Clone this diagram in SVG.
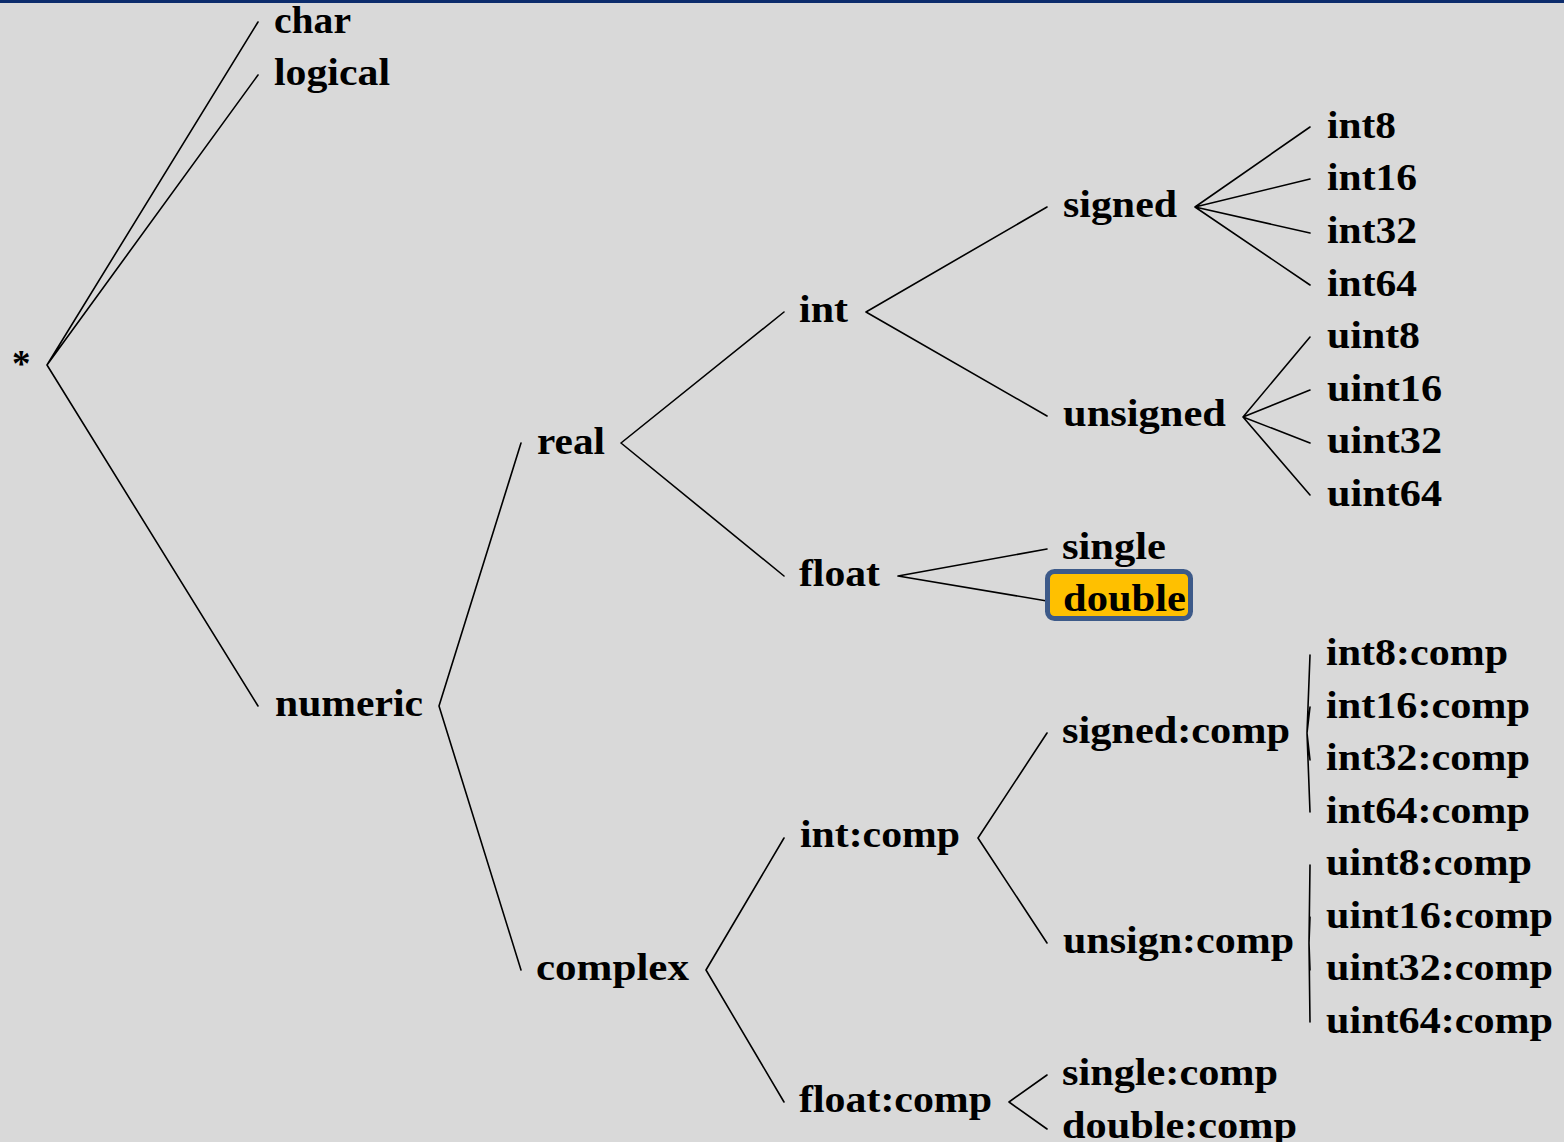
<svg xmlns="http://www.w3.org/2000/svg" width="1564" height="1142" viewBox="0 0 1564 1142">
<style>
.t{font-family:"Liberation Serif","Times New Roman",serif;font-weight:bold;font-size:37px;fill:#000}
.e{stroke:#000;stroke-width:1.6;fill:none;stroke-linecap:round}
</style>
<rect x="0" y="0" width="1564" height="1142" fill="#d9d9d9"/>
<rect x="0" y="0" width="1564" height="3" fill="#0c2c6c"/>
<g id="connectors" class="e">
<path d="M47 365L258 22M47 365L258 75M47 365L258 706"/>
<path d="M439 706L521 443M439 706L521 970"/>
<path d="M621 443L784 312M621 443L784 576"/>
<path d="M706 970L784 838M706 970L784 1102"/>
<path d="M866 312L1047 207M866 312L1047 416"/>
<path d="M898 576L1047 549M898 576L1047 601"/>
<path d="M978 838L1047 733M978 838L1047 943"/>
<path d="M1009 1102L1047 1075M1009 1102L1047 1129"/>
<path d="M1195 207L1310 127M1195 207L1310 179M1195 207L1310 233M1195 207L1310 285"/>
<path d="M1243 417L1310 337M1243 417L1310 390M1243 417L1310 443M1243 417L1310 495"/>
<path d="M1307 733L1310 655M1307 733L1310 707M1307 733L1310 760M1307 733L1310 812"/>
<path d="M1309 943L1310 865M1309 943L1310 917M1309 943L1310 970M1309 943L1310 1022"/>
</g>
<g id="n-root"><text class="t" x="12" y="376">*</text></g>
<g id="n-char"><text class="t" x="274" y="33" textLength="77" lengthAdjust="spacingAndGlyphs">char</text></g>
<g id="n-logical"><text class="t" x="274" y="85" textLength="116" lengthAdjust="spacingAndGlyphs">logical</text></g>
<g id="n-numeric"><text class="t" x="275" y="716" textLength="148" lengthAdjust="spacingAndGlyphs">numeric</text></g>
<g id="n-real"><text class="t" x="537" y="454" textLength="68" lengthAdjust="spacingAndGlyphs">real</text></g>
<g id="n-complex"><text class="t" x="536" y="980" textLength="153" lengthAdjust="spacingAndGlyphs">complex</text></g>
<g id="n-int"><text class="t" x="799" y="322" textLength="49" lengthAdjust="spacingAndGlyphs">int</text></g>
<g id="n-float"><text class="t" x="799" y="586" textLength="81" lengthAdjust="spacingAndGlyphs">float</text></g>
<g id="n-intcomp"><text class="t" x="800" y="847" textLength="160" lengthAdjust="spacingAndGlyphs">int:comp</text></g>
<g id="n-floatcomp"><text class="t" x="799" y="1112" textLength="193" lengthAdjust="spacingAndGlyphs">float:comp</text></g>
<g id="n-signed"><text class="t" x="1063" y="217" textLength="114" lengthAdjust="spacingAndGlyphs">signed</text></g>
<g id="n-unsigned"><text class="t" x="1063" y="426" textLength="163" lengthAdjust="spacingAndGlyphs">unsigned</text></g>
<g id="n-single"><text class="t" x="1062" y="559" textLength="104" lengthAdjust="spacingAndGlyphs">single</text></g>
<g id="n-double"><rect x="1047.5" y="571.5" width="143" height="47" rx="7" fill="#ffc000" stroke="#3d5a89" stroke-width="5"/><text class="t" x="1063" y="611" textLength="123" lengthAdjust="spacingAndGlyphs">double</text></g>
<g id="n-signedcomp"><text class="t" x="1062" y="743" textLength="228" lengthAdjust="spacingAndGlyphs">signed:comp</text></g>
<g id="n-unsigncomp"><text class="t" x="1063" y="953" textLength="231" lengthAdjust="spacingAndGlyphs">unsign:comp</text></g>
<g id="n-singlecomp"><text class="t" x="1062" y="1085" textLength="216" lengthAdjust="spacingAndGlyphs">single:comp</text></g>
<g id="n-doublecomp"><text class="t" x="1062" y="1138" textLength="235" lengthAdjust="spacingAndGlyphs">double:comp</text></g>
<g id="n-int8"><text class="t" x="1327" y="138" textLength="69" lengthAdjust="spacingAndGlyphs">int8</text></g>
<g id="n-int16"><text class="t" x="1327" y="190" textLength="90" lengthAdjust="spacingAndGlyphs">int16</text></g>
<g id="n-int32"><text class="t" x="1327" y="243" textLength="90" lengthAdjust="spacingAndGlyphs">int32</text></g>
<g id="n-int64"><text class="t" x="1327" y="296" textLength="90" lengthAdjust="spacingAndGlyphs">int64</text></g>
<g id="n-uint8"><text class="t" x="1327" y="348" textLength="93" lengthAdjust="spacingAndGlyphs">uint8</text></g>
<g id="n-uint16"><text class="t" x="1327" y="401" textLength="115" lengthAdjust="spacingAndGlyphs">uint16</text></g>
<g id="n-uint32"><text class="t" x="1327" y="453" textLength="115" lengthAdjust="spacingAndGlyphs">uint32</text></g>
<g id="n-uint64"><text class="t" x="1327" y="506" textLength="115" lengthAdjust="spacingAndGlyphs">uint64</text></g>
<g id="n-int8comp"><text class="t" x="1326" y="665" textLength="182" lengthAdjust="spacingAndGlyphs">int8:comp</text></g>
<g id="n-int16comp"><text class="t" x="1326" y="718" textLength="204" lengthAdjust="spacingAndGlyphs">int16:comp</text></g>
<g id="n-int32comp"><text class="t" x="1326" y="770" textLength="204" lengthAdjust="spacingAndGlyphs">int32:comp</text></g>
<g id="n-int64comp"><text class="t" x="1326" y="823" textLength="204" lengthAdjust="spacingAndGlyphs">int64:comp</text></g>
<g id="n-uint8comp"><text class="t" x="1326" y="875" textLength="206" lengthAdjust="spacingAndGlyphs">uint8:comp</text></g>
<g id="n-uint16comp"><text class="t" x="1326" y="928" textLength="227" lengthAdjust="spacingAndGlyphs">uint16:comp</text></g>
<g id="n-uint32comp"><text class="t" x="1326" y="980" textLength="227" lengthAdjust="spacingAndGlyphs">uint32:comp</text></g>
<g id="n-uint64comp"><text class="t" x="1326" y="1033" textLength="227" lengthAdjust="spacingAndGlyphs">uint64:comp</text></g>
</svg>
